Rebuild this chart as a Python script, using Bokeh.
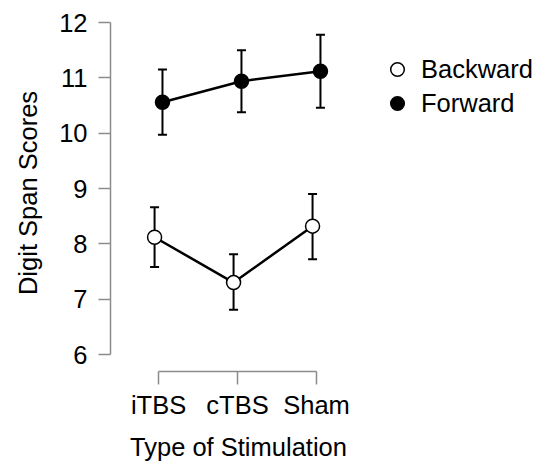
from bokeh.plotting import figure
from bokeh.models import ColumnDataSource, Range1d, FixedTicker, Whisker, TeeHead, Legend, LegendItem
from bokeh.transform import dodge
from bokeh.embed import file_html
from bokeh.resources import INLINE

categories = ["iTBS", "cTBS", "Sham"]
x_pos = [1, 2, 3]
forward_mean = [10.56, 10.94, 11.12]
forward_lower = [9.97, 10.38, 10.46]
forward_upper = [11.15, 11.50, 11.78]
backward_mean = [8.12, 7.30, 8.32]
backward_lower = [7.58, 6.81, 7.72]
backward_upper = [8.66, 7.81, 8.90]
y_ticks = [6, 7, 8, 9, 10, 11, 12]

FONT = "Liberation Sans"
FS = "25.5px"
AXC = "#8c8c8c"
DODGE = 0.05

p = figure(frame_width=256, frame_height=357, output_backend="svg", toolbar_location=None,
           x_range=Range1d(0.392, 3.633), y_range=Range1d(5.693, 12.145),
           min_border_left=110, min_border_top=14, min_border_bottom=96, min_border_right=0)
p.outline_line_color = None
p.xgrid.visible = False
p.ygrid.visible = False

fsrc = ColumnDataSource(dict(x=x_pos, y=forward_mean, lo=forward_lower, hi=forward_upper))
bsrc = ColumnDataSource(dict(x=x_pos, y=backward_mean, lo=backward_lower, hi=backward_upper))

series = [(fsrc, DODGE), (bsrc, -DODGE)]
for src, off in series:
    w = Whisker(source=src, base=dodge("x", off, range=p.x_range), upper="hi", lower="lo",
                line_color="black", line_width=2,
                upper_head=TeeHead(size=9, line_width=2, line_color="black"),
                lower_head=TeeHead(size=9, line_width=2, line_color="black"),
                level="underlay")
    p.add_layout(w)

p.line(dodge("x", DODGE, range=p.x_range), "y", source=fsrc, line_color="black", line_width=2.5)
p.line(dodge("x", -DODGE, range=p.x_range), "y", source=bsrc, line_color="black", line_width=2.5)
rf = p.scatter(dodge("x", DODGE, range=p.x_range), "y", source=fsrc, size=14,
               fill_color="black", line_color="black", line_width=1.5)
rb = p.scatter(dodge("x", -DODGE, range=p.x_range), "y", source=bsrc, size=14,
               fill_color="white", line_color="black", line_width=1.5)

# axes
xa = p.xaxis[0]
xa.ticker = FixedTicker(ticks=x_pos)
xa.major_label_overrides = {x: c for x, c in zip(x_pos, categories)}
xa.bounds = (1, 3)
xa.major_tick_out = 13
xa.major_tick_in = 0
xa.minor_tick_line_color = None
xa.axis_line_color = AXC
xa.major_tick_line_color = AXC
xa.axis_line_width = 1.5
xa.major_tick_line_width = 1.5
xa.major_label_text_font = FONT
xa.major_label_text_font_size = FS
xa.major_label_text_color = "black"
xa.major_label_standoff = 6
xa.axis_label = "Type of Stimulation"
xa.axis_label_text_font = FONT
xa.axis_label_text_font_size = FS
xa.axis_label_text_font_style = "normal"
xa.axis_label_text_color = "black"
xa.axis_label_standoff = 11

ya = p.yaxis[0]
ya.ticker = FixedTicker(ticks=y_ticks)
ya.bounds = (6, 12)
ya.major_tick_out = 12
ya.major_tick_in = 0
ya.minor_tick_line_color = None
ya.axis_line_color = AXC
ya.major_tick_line_color = AXC
ya.axis_line_width = 1.5
ya.major_tick_line_width = 1.5
ya.major_label_text_font = FONT
ya.major_label_text_font_size = FS
ya.major_label_text_color = "black"
ya.major_label_standoff = 11
ya.axis_label = "Digit Span Scores"
ya.axis_label_text_font = FONT
ya.axis_label_text_font_size = FS
ya.axis_label_text_font_style = "normal"
ya.axis_label_text_color = "black"
ya.axis_label_standoff = 14

legend = Legend(items=[LegendItem(label="Backward", renderers=[rb]),
                       LegendItem(label="Forward", renderers=[rf])],
                location=(14, 251), padding=0, margin=0, spacing=0,
                glyph_width=34, glyph_height=34, label_standoff=7,
                label_text_font=FONT, label_text_font_size=FS, label_text_color="black",
                border_line_color=None, background_fill_alpha=0)
p.add_layout(legend, "right")

open("out.html", "w").write(file_html(p, INLINE))
